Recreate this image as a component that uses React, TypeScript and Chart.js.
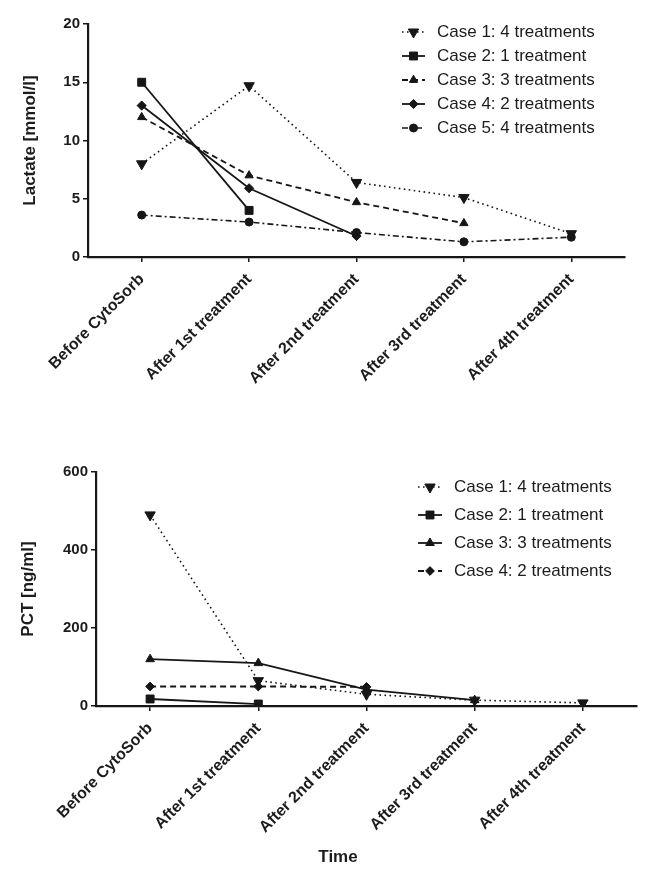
import React, { useEffect, useRef } from 'react';
import { Chart, registerables } from 'chart.js';
import { drawPoint } from 'chart.js/helpers';

Chart.register(...registerables);

// ---------- data ----------
const categories = [
  'Before CytoSorb',
  'After 1st treatment',
  'After 2nd treatment',
  'After 3rd treatment',
  'After 4th treatment',
];

const lactateLabels = [
  'Case 1: 4 treatments',
  'Case 2: 1 treatment',
  'Case 3: 3 treatments',
  'Case 4: 2 treatments',
  'Case 5: 4 treatments',
];
const lactateCase1 = [8, 14.7, 6.4, 5.1, 2.0];
const lactateCase2 = [15, 4, null, null, null];
const lactateCase3 = [12, 7, 4.7, 2.9, null];
const lactateCase4 = [13, 5.9, 1.8, null, null];
const lactateCase5 = [3.6, 3.0, 2.1, 1.3, 1.7];
const lactateTicks = [0, 5, 10, 15, 20];

const pctLabels = [
  'Case 1: 4 treatments',
  'Case 2: 1 treatment',
  'Case 3: 3 treatments',
  'Case 4: 2 treatments',
];
const pctCase1 = [490, 65, 30, 15, 8];
const pctCase2 = [18, 5, null, null, null];
const pctCase3 = [120, 110, 42, 15, null];
const pctCase4 = [50, 50, 49, null, null];
const pctTicks = [0, 200, 400, 600];

const lactateTitle = 'Lactate [mmol/l]';
const pctTitle = 'PCT [ng/ml]';
const xAxisTitle = 'Time';

// ---------- styles ----------
const FONT = "'Liberation Sans', Arial, Helvetica, sans-serif";
const INK = '#161616';

const DOT = [1.6, 3.4];
const DASH = [6, 4];
const DASHDOT = [6, 3, 2, 3];

type Style = { dash: number[]; width: number; point: string; rot: number; r: number };

const lactateStyles: Style[] = [
  { dash: DOT, width: 1.6, point: 'triangle', rot: 180, r: 6 },
  { dash: [], width: 1.8, point: 'rect', rot: 0, r: 5.6 },
  { dash: DASH, width: 1.8, point: 'triangle', rot: 0, r: 4.8 },
  { dash: [], width: 1.8, point: 'rectRot', rot: 0, r: 4.6 },
  { dash: DASHDOT, width: 1.6, point: 'circle', rot: 0, r: 4 },
];
const pctStyles: Style[] = [
  { dash: DOT, width: 1.6, point: 'triangle', rot: 180, r: 6 },
  { dash: [], width: 1.8, point: 'rect', rot: 0, r: 5.6 },
  { dash: [], width: 1.8, point: 'triangle', rot: 0, r: 5 },
  { dash: DASH, width: 2, point: 'rectRot', rot: 0, r: 4.4 },
];

const legendPlugin = {
  id: 'caseLegend',
  afterDraw(chart: any, _args: any, opts: any) {
    const ctx: CanvasRenderingContext2D = chart.ctx;
    ctx.save();
    chart.data.datasets.forEach((ds: any, i: number) => {
      const y = opts.y0 + i * opts.step;
      ctx.strokeStyle = INK;
      ctx.lineWidth = ds.borderWidth;
      ctx.setLineDash(ds.borderDash || []);
      ctx.beginPath();
      ctx.moveTo(opts.x0, y);
      ctx.lineTo(opts.x0 + opts.len, y);
      ctx.stroke();
      ctx.setLineDash([]);
      ctx.fillStyle = INK;
      ctx.lineWidth = 1;
      drawPoint(
        ctx,
        { pointStyle: ds.pointStyle, rotation: ds.pointRotation, radius: ds.pointRadius, borderWidth: 1 } as any,
        opts.x0 + opts.len / 2,
        y
      );
      ctx.font = `17px ${FONT}`;
      ctx.textBaseline = 'middle';
      ctx.textAlign = 'left';
      ctx.fillStyle = '#1c1c1c';
      ctx.fillText(ds.label, opts.textX, y);
    });
    if (opts.xTitle) {
      ctx.font = `bold 17px ${FONT}`;
      ctx.textAlign = 'center';
      ctx.textBaseline = 'middle';
      ctx.fillStyle = '#1c1c1c';
      ctx.fillText(opts.xTitle, opts.xTitleX, opts.xTitleY);
    }
    ctx.restore();
  },
};

function buildConfig(
  labels: string[],
  series: (number | null)[][],
  styles: Style[],
  yTicks: number[],
  yTitle: string,
  lay: any,
  legend: any
) {
  return {
    type: 'line',
    data: {
      labels: categories,
      datasets: series.map((data, i) => ({
        label: labels[i],
        data,
        borderColor: INK,
        backgroundColor: INK,
        borderWidth: styles[i].width,
        borderDash: styles[i].dash,
        pointStyle: styles[i].point,
        pointRotation: styles[i].rot,
        pointRadius: styles[i].r,
        pointBackgroundColor: INK,
        pointBorderColor: INK,
        pointBorderWidth: 1,
        tension: 0,
        fill: false,
        spanGaps: false,
      })),
    },
    options: {
      responsive: false,
      animation: false,
      events: [],
      layout: { padding: { left: lay.padLeft, right: lay.padRight, top: lay.padTop, bottom: 0 } },
      plugins: {
        legend: { display: false },
        tooltip: { enabled: false },
        caseLegend: legend,
      },
      scales: {
        x: {
          type: 'category',
          offset: true,
          grid: { drawOnChartArea: false, drawTicks: true, tickLength: 5, color: INK, lineWidth: 1.5 },
          border: { display: true, color: INK, width: 2.2 },
          ticks: {
            color: '#1c1c1c',
            font: { family: FONT, size: 16, weight: 'bold' },
            minRotation: 45,
            maxRotation: 45,
            padding: 8,
            autoSkip: false,
          },
          afterFit: (s: any) => {
            s.height = lay.xHeight;
            s.paddingLeft = 0;
            s.paddingRight = 0;
          },
        },
        y: {
          min: yTicks[0],
          max: yTicks[yTicks.length - 1],
          afterBuildTicks: (s: any) => {
            s.ticks = yTicks.map((v) => ({ value: v }));
          },
          grid: { drawOnChartArea: false, drawTicks: true, tickLength: 5, color: INK, lineWidth: 1.5 },
          border: { display: true, color: INK, width: 2.2 },
          ticks: {
            color: '#1c1c1c',
            font: { family: FONT, size: 15, weight: 'bold' },
            padding: 3,
          },
          title: {
            display: true,
            text: yTitle,
            color: '#1c1c1c',
            font: { family: FONT, size: 17, weight: 'bold' },
            padding: { top: lay.titlePad, bottom: 0 },
          },
          afterFit: (s: any) => {
            s.width = lay.yWidth;
          },
        },
      },
    },
    plugins: [legendPlugin],
  } as any;
}

function LineChart({ config, width, height, top }: { config: any; width: number; height: number; top: number }) {
  const ref = useRef<HTMLCanvasElement>(null);
  useEffect(() => {
    const chart = new Chart(ref.current as HTMLCanvasElement, config);
    return () => chart.destroy();
  }, [config]);
  return (
    <div style={{ position: 'absolute', left: 0, top, width, height }}>
      <canvas ref={ref} width={width} height={height} style={{ width, height, display: 'block' }} />
    </div>
  );
}

const topConfig = buildConfig(
  lactateLabels,
  [lactateCase1, lactateCase2, lactateCase3, lactateCase4, lactateCase5],
  lactateStyles,
  lactateTicks,
  lactateTitle,
  { padLeft: 12, padRight: 32, padTop: 24, xHeight: 163, yWidth: 76, titlePad: 8 },
  { x0: 402, len: 23, textX: 437, y0: 32, step: 24 }
);

const bottomConfig = buildConfig(
  pctLabels,
  [pctCase1, pctCase2, pctCase3, pctCase4],
  pctStyles,
  pctTicks,
  pctTitle,
  { padLeft: 10, padRight: 20, padTop: 52, xHeight: 176, yWidth: 86, titlePad: 8 },
  { x0: 418, len: 24, textX: 454, y0: 67, step: 28, xTitle: xAxisTitle, xTitleX: 338, xTitleY: 437 }
);

export default function App() {
  return (
    <div style={{ position: 'absolute', left: 0, top: 0, width: 657, height: 882, background: '#fff' }}>
      <LineChart config={topConfig} width={657} height={420} top={0} />
      <LineChart config={bottomConfig} width={657} height={462} top={420} />
    </div>
  );
}
